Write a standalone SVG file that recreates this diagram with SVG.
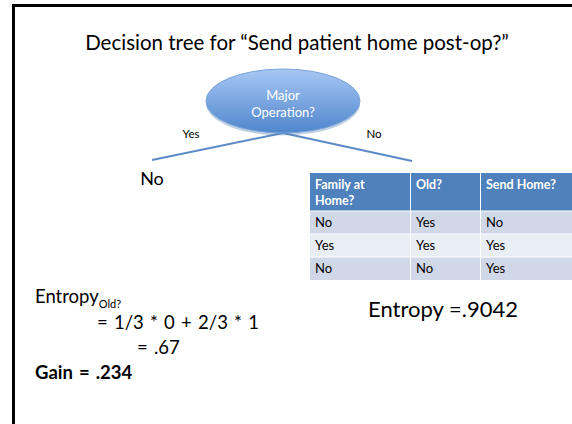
<svg xmlns="http://www.w3.org/2000/svg" width="572" height="424" viewBox="0 0 572 424">
  <style>
    text { font-family: Lato, "Open Sans", "Liberation Sans", sans-serif; fill: #000; }
    .title { font-size: 20.5px; }
    .node-label { font-size: 13px; fill: #ffffff; }
    .edge-label { font-size: 11.5px; }
    .leaf { font-size: 18px; }
    .th { font-size: 12.5px; font-weight: bold; fill: #ffffff; }
    .td { font-size: 13px; }
    .big { font-size: 22px; }
    .calc { font-size: 18.5px; word-spacing: 1.5px; }
    .sub { font-size: 11px; word-spacing: 0; }
    .edge { stroke: #5b8ac6; stroke-width: 2; fill: none; }
  </style>
  <defs>
    <linearGradient id="nodeFill" x1="0" y1="0" x2="0" y2="1">
      <stop offset="0" stop-color="#a7c7f5"/>
      <stop offset="1" stop-color="#4f86cc"/>
    </linearGradient>
  </defs>

  <rect width="572" height="424" fill="#ffffff"/>
  <!-- slide frame -->
  <path d="M13.5 424 V5.5 H572" fill="none" stroke="#000" stroke-width="3"/>

  <text class="title" x="297" y="50" text-anchor="middle">Decision tree for “Send patient home post-op?”</text>

  <!-- connectors -->
  <g id="connectors">
    <line class="edge" x1="283" y1="133" x2="152" y2="160"/>
    <line class="edge" x1="283" y1="133" x2="412" y2="161"/>
    <text class="edge-label" x="191" y="138" text-anchor="middle">Yes</text>
    <text class="edge-label" x="374" y="138" text-anchor="middle">No</text>
  </g>

  <!-- root decision node -->
  <g id="node-major-operation">
    <ellipse cx="283" cy="102" rx="77" ry="32" fill="#4a78b0" opacity="0.35" transform="translate(0,1.5)"/>
    <ellipse cx="283" cy="101" rx="77" ry="32" fill="url(#nodeFill)" stroke="#7aa3da" stroke-width="1"/>
    <text class="node-label" x="283" y="99.5" text-anchor="middle">Major</text>
    <text class="node-label" x="283" y="116.5" text-anchor="middle">Operation?</text>
  </g>

  <!-- leaf on the Yes branch -->
  <g id="node-leaf-no">
    <text class="leaf" x="152" y="185" text-anchor="middle">No</text>
  </g>

  <!-- data table on the No branch -->
  <g id="node-table">
    <rect x="310" y="173" width="262" height="38" fill="#4f81bd"/>
    <rect x="310" y="211" width="262" height="23" fill="#d0d8e8"/>
    <rect x="310" y="234" width="262" height="23" fill="#e9edf4"/>
    <rect x="310" y="257" width="262" height="23" fill="#d0d8e8"/>
    <g stroke="#ffffff" stroke-width="1">
      <line x1="310" y1="211" x2="572" y2="211"/>
      <line x1="310" y1="234" x2="572" y2="234"/>
      <line x1="310" y1="257" x2="572" y2="257"/>
      <line x1="410.5" y1="173" x2="410.5" y2="280"/>
      <line x1="480.5" y1="173" x2="480.5" y2="280"/>
    </g>
    <text class="th" x="315" y="189">Family at</text>
    <text class="th" x="315" y="205">Home?</text>
    <text class="th" x="416" y="189">Old?</text>
    <text class="th" x="486" y="189">Send Home?</text>
    <text class="td" x="315" y="227">No</text>
    <text class="td" x="416" y="227">Yes</text>
    <text class="td" x="486" y="227">No</text>
    <text class="td" x="315" y="250">Yes</text>
    <text class="td" x="416" y="250">Yes</text>
    <text class="td" x="486" y="250">Yes</text>
    <text class="td" x="315" y="273">No</text>
    <text class="td" x="416" y="273">No</text>
    <text class="td" x="486" y="273">Yes</text>
  </g>

  <text class="big" x="443" y="317" text-anchor="middle">Entropy =.9042</text>

  <!-- information gain calculation -->
  <g id="calculation">
    <text class="calc" x="35" y="303">Entropy<tspan class="sub" dy="5">Old?</tspan></text>
    <text class="calc" x="97" y="329">= 1/3 * 0 + 2/3 * 1</text>
    <text class="calc" x="137" y="354">= .67</text>
    <text class="calc" x="35" y="379" font-weight="bold">Gain = .234</text>
  </g>
</svg>
